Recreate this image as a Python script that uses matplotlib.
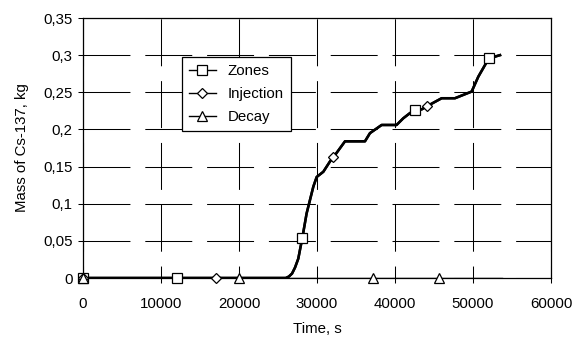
import numpy as np
import matplotlib
matplotlib.use('Agg')
import matplotlib.pyplot as plt
from matplotlib.lines import Line2D

plt.rcParams['font.family'] = ['Liberation Sans', 'DejaVu Sans']
plt.rcParams['font.size'] = 10.8
plt.rcParams['lines.scale_dashes'] = False

# Mass curve (Zones and Injection lie on top of each other)
time_s = [0, 26000, 26400, 26800, 27180, 27600, 27820, 28120, 28670, 29100, 29530, 29960,
          30810, 31670, 32100, 33590, 36150, 36790, 38290, 40200, 41060, 41920,
          42560, 43420, 44060, 45980, 47690, 49830, 50680, 52050, 52820, 53460]
mass_kg = [0, 0, 0.002, 0.006, 0.014, 0.026, 0.038, 0.054, 0.087, 0.105, 0.123, 0.136,
           0.143, 0.157, 0.1625, 0.184, 0.184, 0.195, 0.206, 0.206, 0.215, 0.222,
           0.226, 0.227, 0.231, 0.242, 0.242, 0.251, 0.271, 0.296, 0.298, 0.300]

decay_t = [0, 53700]
decay_m = [0, 0]

# where the markers sit on each series
zones_mark_t = [0, 12000, 28120, 42560, 52050]
injection_mark_t = [0, 17000, 32100, 44060]
decay_mark_t = [0, 20000, 37200, 45600]

x_ticks = [0, 10000, 20000, 30000, 40000, 50000, 60000]
y_ticks = [0, 0.05, 0.1, 0.15, 0.2, 0.25, 0.3, 0.35]
y_labels = ['0', '0,05', '0,1', '0,15', '0,2', '0,25', '0,3', '0,35']

fig = plt.figure(figsize=(5.82, 3.38), dpi=100)
ax = fig.add_axes([83 / 582, 60 / 338, 468 / 582, 260 / 338])

# lines
ax.plot(time_s, mass_kg, color='black', lw=1.8, zorder=3)
ax.plot(time_s, mass_kg, color='black', lw=1.8, zorder=3)
ax.plot(decay_t, decay_m, color='black', lw=1.0, zorder=3)

# markers
mk = dict(ls='none', mfc='white', mec='black', mew=0.9, clip_on=False, zorder=4)
ax.plot(zones_mark_t, np.interp(zones_mark_t, time_s, mass_kg), marker='s', ms=6.5, **mk)
ax.plot(injection_mark_t, np.interp(injection_mark_t, time_s, mass_kg), marker='D', ms=5, **mk)
ax.plot(decay_mark_t, np.interp(decay_mark_t, decay_t, decay_m), marker='^', ms=7, **mk)

ax.set_xlim(0, 60000)
ax.set_ylim(0, 0.35)
ax.set_xticks(x_ticks)
ax.set_xticklabels([str(t) for t in x_ticks])
ax.set_yticks(y_ticks)
ax.set_yticklabels(y_labels)
ax.tick_params(axis='x', direction='out', length=3.6, width=0.75, pad=10)
ax.tick_params(axis='y', direction='out', length=3.6, width=0.75, pad=4)

# long dashed grid, dashes start at left edge / top edge
ax.yaxis.grid(True, color='black', lw=0.75, linestyle=(0, (33.8, 10.7)))
ax.xaxis.grid(True, color='black', lw=0.75, linestyle=(25.2, (33.8, 10.7)))
ax.set_axisbelow(True)
for s in ax.spines.values():
    s.set_linewidth(0.9)

ax.set_xlabel('Time, s', labelpad=8)
ax.set_ylabel('Mass of Cs-137, kg', labelpad=10)

handles = [
    Line2D([], [], color='black', lw=1.0, marker='s', ms=6.5, mfc='white', mec='black', mew=0.9),
    Line2D([], [], color='black', lw=1.0, marker='D', ms=5, mfc='white', mec='black', mew=0.9),
    Line2D([], [], color='black', lw=1.0, marker='^', ms=7, mfc='white', mec='black', mew=0.9),
]
leg = fig.legend(handles, ['Zones', 'Injection', 'Decay'], loc='upper left',
                 bbox_to_anchor=(182 / 582, 1 - 57 / 338), frameon=True, fancybox=False,
                 framealpha=1, edgecolor='black', handlelength=1.8, handletextpad=0.8,
                 borderpad=0.45, labelspacing=0.6, borderaxespad=0)
leg.get_frame().set_linewidth(0.9)

fig.savefig('out.png', dpi=100)
